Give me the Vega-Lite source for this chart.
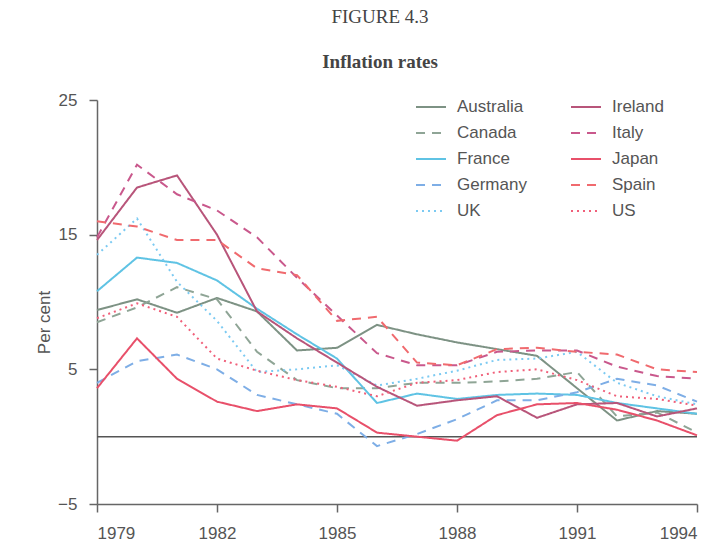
{
  "$schema": "https://vega.github.io/schema/vega-lite/v6.json",
  "width": 600,
  "height": 404,
  "autosize": {"type": "none"},
  "padding": {"left": 97, "top": 100, "right": 23, "bottom": 43},
  "background": "white",
  "title": {
    "text": "FIGURE 4.3",
    "subtitle": "Inflation rates",
    "anchor": "middle",
    "frame": "group",
    "dx": -17,
    "offset": 19,
    "font": "Liberation Serif",
    "fontSize": 19,
    "fontWeight": "normal",
    "color": "#444",
    "subtitleFont": "Liberation Serif",
    "subtitleFontSize": 19,
    "subtitleFontWeight": "bold",
    "subtitleColor": "#444",
    "subtitlePadding": 26
  },
  "config": {
    "view": {"stroke": null},
    "axis": {"grid": false, "domainColor": "#666", "tickColor": "#666", "labelFont": "Liberation Sans", "labelFontSize": 17, "labelColor": "#555", "titleFont": "Liberation Sans", "titleFontSize": 17, "titleFontWeight": "normal", "titleColor": "#555", "tickSize": 8, "domainWidth": 1.5, "tickWidth": 1.5}
  },
  "datasets": {
    "rates": [
      {"country": "Australia", "year": 1979, "rate": 9.4}, {"country": "Australia", "year": 1980, "rate": 10.2}, {"country": "Australia", "year": 1981, "rate": 9.2}, {"country": "Australia", "year": 1982, "rate": 10.3}, {"country": "Australia", "year": 1983, "rate": 9.3}, {"country": "Australia", "year": 1984, "rate": 6.4}, {"country": "Australia", "year": 1985, "rate": 6.6}, {"country": "Australia", "year": 1986, "rate": 8.3}, {"country": "Australia", "year": 1987, "rate": 7.6}, {"country": "Australia", "year": 1988, "rate": 7.0}, {"country": "Australia", "year": 1989, "rate": 6.5}, {"country": "Australia", "year": 1990, "rate": 6.0}, {"country": "Australia", "year": 1991, "rate": 3.6}, {"country": "Australia", "year": 1992, "rate": 1.2}, {"country": "Australia", "year": 1993, "rate": 1.9}, {"country": "Australia", "year": 1994, "rate": 1.7},
      {"country": "Canada", "year": 1979, "rate": 8.5}, {"country": "Canada", "year": 1980, "rate": 9.6}, {"country": "Canada", "year": 1981, "rate": 11.1}, {"country": "Canada", "year": 1982, "rate": 10.2}, {"country": "Canada", "year": 1983, "rate": 6.3}, {"country": "Canada", "year": 1984, "rate": 4.2}, {"country": "Canada", "year": 1985, "rate": 3.6}, {"country": "Canada", "year": 1986, "rate": 3.6}, {"country": "Canada", "year": 1987, "rate": 4.0}, {"country": "Canada", "year": 1988, "rate": 4.0}, {"country": "Canada", "year": 1989, "rate": 4.1}, {"country": "Canada", "year": 1990, "rate": 4.3}, {"country": "Canada", "year": 1991, "rate": 4.8}, {"country": "Canada", "year": 1992, "rate": 1.5}, {"country": "Canada", "year": 1993, "rate": 1.8}, {"country": "Canada", "year": 1994, "rate": 0.3},
      {"country": "France", "year": 1979, "rate": 10.8}, {"country": "France", "year": 1980, "rate": 13.3}, {"country": "France", "year": 1981, "rate": 12.9}, {"country": "France", "year": 1982, "rate": 11.6}, {"country": "France", "year": 1983, "rate": 9.5}, {"country": "France", "year": 1984, "rate": 7.6}, {"country": "France", "year": 1985, "rate": 5.8}, {"country": "France", "year": 1986, "rate": 2.5}, {"country": "France", "year": 1987, "rate": 3.2}, {"country": "France", "year": 1988, "rate": 2.8}, {"country": "France", "year": 1989, "rate": 3.1}, {"country": "France", "year": 1990, "rate": 3.2}, {"country": "France", "year": 1991, "rate": 3.1}, {"country": "France", "year": 1992, "rate": 2.5}, {"country": "France", "year": 1993, "rate": 2.1}, {"country": "France", "year": 1994, "rate": 1.7},
      {"country": "Germany", "year": 1979, "rate": 4.0}, {"country": "Germany", "year": 1980, "rate": 5.6}, {"country": "Germany", "year": 1981, "rate": 6.1}, {"country": "Germany", "year": 1982, "rate": 5.0}, {"country": "Germany", "year": 1983, "rate": 3.1}, {"country": "Germany", "year": 1984, "rate": 2.4}, {"country": "Germany", "year": 1985, "rate": 1.7}, {"country": "Germany", "year": 1986, "rate": -0.7}, {"country": "Germany", "year": 1987, "rate": 0.2}, {"country": "Germany", "year": 1988, "rate": 1.3}, {"country": "Germany", "year": 1989, "rate": 2.7}, {"country": "Germany", "year": 1990, "rate": 2.7}, {"country": "Germany", "year": 1991, "rate": 3.3}, {"country": "Germany", "year": 1992, "rate": 4.3}, {"country": "Germany", "year": 1993, "rate": 3.8}, {"country": "Germany", "year": 1994, "rate": 2.6},
      {"country": "UK", "year": 1979, "rate": 13.5}, {"country": "UK", "year": 1980, "rate": 16.2}, {"country": "UK", "year": 1981, "rate": 11.5}, {"country": "UK", "year": 1982, "rate": 8.6}, {"country": "UK", "year": 1983, "rate": 4.8}, {"country": "UK", "year": 1984, "rate": 5.0}, {"country": "UK", "year": 1985, "rate": 5.3}, {"country": "UK", "year": 1986, "rate": 3.8}, {"country": "UK", "year": 1987, "rate": 4.3}, {"country": "UK", "year": 1988, "rate": 4.9}, {"country": "UK", "year": 1989, "rate": 5.7}, {"country": "UK", "year": 1990, "rate": 5.8}, {"country": "UK", "year": 1991, "rate": 6.3}, {"country": "UK", "year": 1992, "rate": 4.0}, {"country": "UK", "year": 1993, "rate": 3.0}, {"country": "UK", "year": 1994, "rate": 2.4},
      {"country": "Ireland", "year": 1979, "rate": 14.6}, {"country": "Ireland", "year": 1980, "rate": 18.5}, {"country": "Ireland", "year": 1981, "rate": 19.4}, {"country": "Ireland", "year": 1982, "rate": 15.0}, {"country": "Ireland", "year": 1983, "rate": 9.3}, {"country": "Ireland", "year": 1984, "rate": 7.3}, {"country": "Ireland", "year": 1985, "rate": 5.5}, {"country": "Ireland", "year": 1986, "rate": 3.7}, {"country": "Ireland", "year": 1987, "rate": 2.3}, {"country": "Ireland", "year": 1988, "rate": 2.7}, {"country": "Ireland", "year": 1989, "rate": 3.0}, {"country": "Ireland", "year": 1990, "rate": 1.4}, {"country": "Ireland", "year": 1991, "rate": 2.4}, {"country": "Ireland", "year": 1992, "rate": 2.5}, {"country": "Ireland", "year": 1993, "rate": 1.5}, {"country": "Ireland", "year": 1994, "rate": 2.1},
      {"country": "Italy", "year": 1979, "rate": 14.8}, {"country": "Italy", "year": 1980, "rate": 20.2}, {"country": "Italy", "year": 1981, "rate": 18.0}, {"country": "Italy", "year": 1982, "rate": 16.8}, {"country": "Italy", "year": 1983, "rate": 14.8}, {"country": "Italy", "year": 1984, "rate": 11.8}, {"country": "Italy", "year": 1985, "rate": 9.0}, {"country": "Italy", "year": 1986, "rate": 6.2}, {"country": "Italy", "year": 1987, "rate": 5.3}, {"country": "Italy", "year": 1988, "rate": 5.3}, {"country": "Italy", "year": 1989, "rate": 6.3}, {"country": "Italy", "year": 1990, "rate": 6.4}, {"country": "Italy", "year": 1991, "rate": 6.4}, {"country": "Italy", "year": 1992, "rate": 5.2}, {"country": "Italy", "year": 1993, "rate": 4.5}, {"country": "Italy", "year": 1994, "rate": 4.3},
      {"country": "Japan", "year": 1979, "rate": 3.6}, {"country": "Japan", "year": 1980, "rate": 7.3}, {"country": "Japan", "year": 1981, "rate": 4.3}, {"country": "Japan", "year": 1982, "rate": 2.6}, {"country": "Japan", "year": 1983, "rate": 1.9}, {"country": "Japan", "year": 1984, "rate": 2.4}, {"country": "Japan", "year": 1985, "rate": 2.1}, {"country": "Japan", "year": 1986, "rate": 0.3}, {"country": "Japan", "year": 1987, "rate": 0.0}, {"country": "Japan", "year": 1988, "rate": -0.3}, {"country": "Japan", "year": 1989, "rate": 1.6}, {"country": "Japan", "year": 1990, "rate": 2.4}, {"country": "Japan", "year": 1991, "rate": 2.5}, {"country": "Japan", "year": 1992, "rate": 2.0}, {"country": "Japan", "year": 1993, "rate": 1.2}, {"country": "Japan", "year": 1994, "rate": 0.1},
      {"country": "Spain", "year": 1979, "rate": 16.0}, {"country": "Spain", "year": 1980, "rate": 15.6}, {"country": "Spain", "year": 1981, "rate": 14.6}, {"country": "Spain", "year": 1982, "rate": 14.6}, {"country": "Spain", "year": 1983, "rate": 12.5}, {"country": "Spain", "year": 1984, "rate": 12.0}, {"country": "Spain", "year": 1985, "rate": 8.6}, {"country": "Spain", "year": 1986, "rate": 8.9}, {"country": "Spain", "year": 1987, "rate": 5.5}, {"country": "Spain", "year": 1988, "rate": 5.3}, {"country": "Spain", "year": 1989, "rate": 6.5}, {"country": "Spain", "year": 1990, "rate": 6.6}, {"country": "Spain", "year": 1991, "rate": 6.3}, {"country": "Spain", "year": 1992, "rate": 6.1}, {"country": "Spain", "year": 1993, "rate": 5.0}, {"country": "Spain", "year": 1994, "rate": 4.8},
      {"country": "US", "year": 1979, "rate": 8.8}, {"country": "US", "year": 1980, "rate": 9.9}, {"country": "US", "year": 1981, "rate": 8.9}, {"country": "US", "year": 1982, "rate": 5.8}, {"country": "US", "year": 1983, "rate": 4.9}, {"country": "US", "year": 1984, "rate": 4.2}, {"country": "US", "year": 1985, "rate": 3.7}, {"country": "US", "year": 1986, "rate": 3.0}, {"country": "US", "year": 1987, "rate": 4.0}, {"country": "US", "year": 1988, "rate": 4.2}, {"country": "US", "year": 1989, "rate": 4.8}, {"country": "US", "year": 1990, "rate": 5.0}, {"country": "US", "year": 1991, "rate": 4.2}, {"country": "US", "year": 1992, "rate": 3.0}, {"country": "US", "year": 1993, "rate": 2.8}, {"country": "US", "year": 1994, "rate": 2.3}
    ]
  },
  "layer": [
    {
      "data": {"values": [{"y": 0}]},
      "mark": {"type": "rule", "color": "#555", "strokeWidth": 1.5},
      "encoding": {"y": {"field": "y", "type": "quantitative"}}
    },
    {
      "data": {"name": "rates"},
      "mark": {"type": "line", "strokeWidth": 2},
      "encoding": {
        "x": {"field": "year", "type": "quantitative", "scale": {"domain": [1979, 1994], "nice": false, "zero": false},
              "axis": {"title": null, "values": [1979, 1982, 1985, 1988, 1991, 1994], "format": "d", "labelPadding": 13}},
        "y": {"field": "rate", "type": "quantitative", "scale": {"domain": [-5, 25], "nice": false},
              "axis": {"title": "Per cent", "values": [-5, 5, 15, 25], "labelPadding": 12, "titlePadding": 4, "titleY": 222}},
        "color": {"field": "country", "type": "nominal", "title": null,
          "scale": {
            "domain": ["Australia", "Ireland", "Canada", "Italy", "France", "Japan", "Germany", "Spain", "UK", "US"],
            "range": ["#7d9284", "#b8557a", "#8fa596", "#c9588c", "#5fc3e4", "#e8506a", "#7eaee6", "#f06a6e", "#7ccaf2", "#f0607a"]
          },
          "legend": {"orient": "none", "legendX": 318, "legendY": -9, "columns": 2, "direction": "horizontal", "columnPadding": 40, "rowPadding": 2, "gridAlign": "all", "symbolType": "stroke", "symbolSize": 900, "symbolStrokeWidth": 2, "labelFont": "Liberation Sans", "labelFontSize": 17, "labelColor": "#555", "labelOffset": 10, "symbolOffset": 0}
        },
        "strokeDash": {"field": "country", "type": "nominal", "title": null,
          "scale": {
            "domain": ["Australia", "Ireland", "Canada", "Italy", "France", "Japan", "Germany", "Spain", "UK", "US"],
            "range": [[1, 0], [1, 0], [9, 7], [9, 7], [1, 0], [1, 0], [9, 7], [9, 7], [2, 4], [2, 4]]
          }
        }
      }
    }
  ]
}
